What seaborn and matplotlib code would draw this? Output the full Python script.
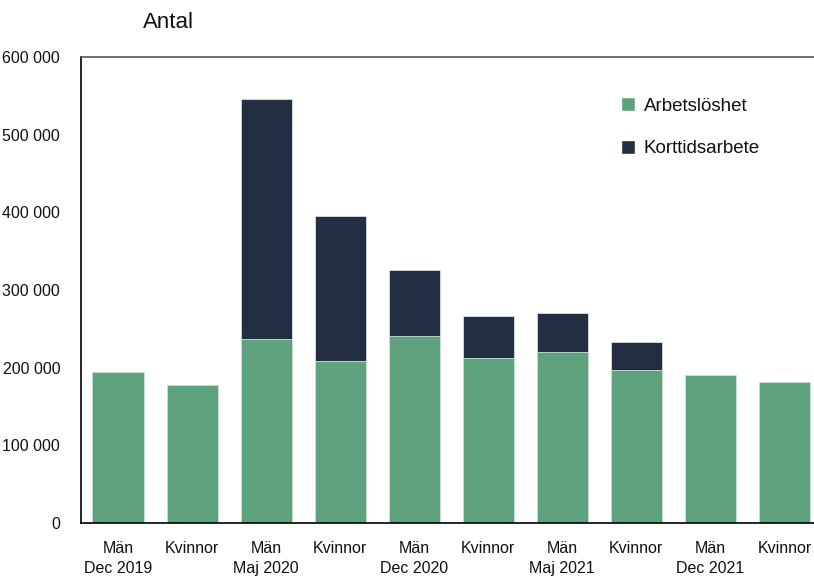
import pandas as pd
import matplotlib.pyplot as plt
import matplotlib.ticker as mticker
from matplotlib.patches import Patch
import seaborn as sns

# data
kon = ["Män", "Kvinnor"] * 5
period = ["Dec 2019", "Dec 2019", "Maj 2020", "Maj 2020", "Dec 2020",
          "Dec 2020", "Maj 2021", "Maj 2021", "Dec 2021", "Dec 2021"]
arbetsloshet = [195000, 178000, 237000, 209000, 241000, 213000, 220000, 197000, 191000, 181000]
korttidsarbete = [0, 0, 309000, 186000, 85000, 53000, 50000, 36000, 0, 0]

df = pd.DataFrame({"kon": kon, "period": period,
                   "Arbetslöshet": arbetsloshet, "Korttidsarbete": korttidsarbete})
df["grupp"] = [str(i) for i in range(len(df))]
df["total"] = df["Arbetslöshet"] + df["Korttidsarbete"]

labels = []
for k, p in zip(df.kon, df.period):
    labels.append(k + "\n" + p if k == "Män" else k)

green = "#5ea37d"
navy = "#222e41"

sns.set_style("white")
plt.rcParams["font.family"] = ["Liberation Sans", "DejaVu Sans"]

fig = plt.figure(figsize=(8.14, 5.77), dpi=100)
ax = fig.add_axes([81 / 814, 54 / 577, 1 - 81 / 814, (523 - 57) / 577])

# stacked: total first (navy), then unemployment (green) on top
sns.barplot(data=df, x="grupp", y="total", color=navy, saturation=1, width=0.69,
            edgecolor="#d8dde3", linewidth=0.6, ax=ax)
sns.barplot(data=df, x="grupp", y="Arbetslöshet", color=green, saturation=1, width=0.69,
            edgecolor="#cfe3d6", linewidth=0.6, ax=ax)

ax.set_ylim(0, 600000)
ax.set_xlim(-0.5, 9.4)
ax.yaxis.set_major_locator(mticker.MultipleLocator(100000))
ax.yaxis.set_major_formatter(mticker.FuncFormatter(lambda v, p: f"{int(v):,}".replace(",", " ")))
ax.set_xlabel("")
ax.set_ylabel("")

ax.set_xticks(range(len(labels)))
ax.set_xticklabels(labels, fontsize=11.5, linespacing=1.45, color="#111111")
ax.set_xticks([-0.5, 1.5, 3.5, 5.5, 7.5], minor=True)
ax.tick_params(axis="x", which="major", length=0, pad=13)
ax.tick_params(axis="x", which="minor", length=12, direction="inout", width=1, color="black")
ax.tick_params(axis="y", length=5, direction="in", width=1, color="black", labelsize=11.5,
               labelcolor="#111111", pad=15)

for s in ["left", "bottom"]:
    ax.spines[s].set_color("black")
    ax.spines[s].set_linewidth(1.2)
ax.spines["top"].set_color("#555555")
ax.spines["top"].set_linewidth(1.2)
ax.spines["right"].set_visible(False)

handles = [Patch(facecolor=green, label="Arbetslöshet"),
           Patch(facecolor=navy, label="Korttidsarbete")]
ax.legend(handles=handles, loc="upper left", bbox_to_anchor=(0.713, 0.95), frameon=False,
          fontsize=13.5, handlelength=0.75, handleheight=0.75, handletextpad=0.5,
          labelspacing=1.35, labelcolor="#111111")

fig.text(143 / 814, 1 - 22 / 577, "Antal", fontsize=16, va="center", ha="left", color="#111111")

fig.savefig("out.png", dpi=100)
